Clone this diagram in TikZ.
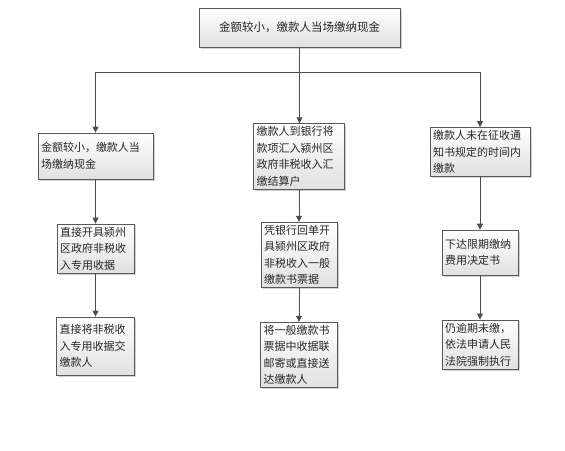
\documentclass[tikz,border=0pt]{standalone}
\usepackage{fontspec}
\setmainfont{Noto Sans CJK SC}
\usetikzlibrary{arrows.meta,shadows}
\begin{document}
\begin{tikzpicture}[x=1pt,y=-1pt,
  box/.style={draw=black!65, line width=0.7pt, top color=white, bottom color=black!12,
    drop shadow={shadow xshift=1.5pt, shadow yshift=-1.5pt, fill=black!30, opacity=0.6},
    inner sep=3pt, align=left, font=\fontsize{11}{16.5}\selectfont, text=black!85, anchor=center},
  conn/.style={draw=black!70, line width=0.8pt},
  arr/.style={conn, -{Triangle[length=6pt,width=6pt]}}]
\useasboundingbox (0,0) rectangle (565,450);

\node[box, align=center, text width=195, minimum height=39, font=\fontsize{11.5}{16.5}\selectfont] (top) at (299.5,27.5) {金额较小，缴款人当场缴纳现金};

\node[box, text width=109, minimum height=46] (L2) at (95.5,156) {金额较小，缴款人当\\场缴纳现金};
\node[box, text width=85, minimum height=61] (M2) at (299,156.5) {缴款人到银行将\\款项汇入颍州区\\政府非税收入汇\\缴结算户};
\node[box, text width=94, minimum height=48] (R2) at (480,152) {缴款人未在征收通\\知书规定的时间内\\缴款};

\node[box, text width=71, minimum height=49] (L3) at (95.5,248.5) {直接开具颍州\\区政府非税收\\入专用收据};
\node[box, text width=70, minimum height=62] (M3) at (299,255) {凭银行回单开\\具颍州区政府\\非税收入一般\\缴款书票据};
\node[box, text width=70, minimum height=45] (R3) at (480,252.5) {下达限期缴纳\\费用决定书};

\node[box, text width=72, minimum height=58] (L4) at (95.5,346) {直接将非税收\\入专用收据交\\缴款人};
\node[box, text width=71, minimum height=62] (M4) at (299,355) {将一般缴款书\\票据中收据联\\邮寄或直接送\\达缴款人};
\node[box, text width=70, minimum height=49] (R4) at (480,344.5) {仍逾期未缴，\\依法申请人民\\法院强制执行};

\coordinate (j1) at (95.5,72);
\coordinate (j2) at (299.5,72);
\coordinate (j3) at (480,72);

\draw[conn] (top.south) -- (j2);
\draw[conn] (j1) -- (j3);
\draw[arr] (j1) -- (L2.north);
\draw[arr] (j2) -- (j2 |- M2.north);
\draw[arr] (j3) -- (R2.north);

\draw[arr] (L2.south) -- (L3.north);
\draw[arr] (M2.south) -- (M3.north);
\draw[arr] (R2.south) -- (R3.north);

\draw[arr] (L3.south) -- (L4.north);
\draw[arr] (M3.south) -- (M4.north);
\draw[arr] (R3.south) -- (R4.north);
\end{tikzpicture}
\end{document}
